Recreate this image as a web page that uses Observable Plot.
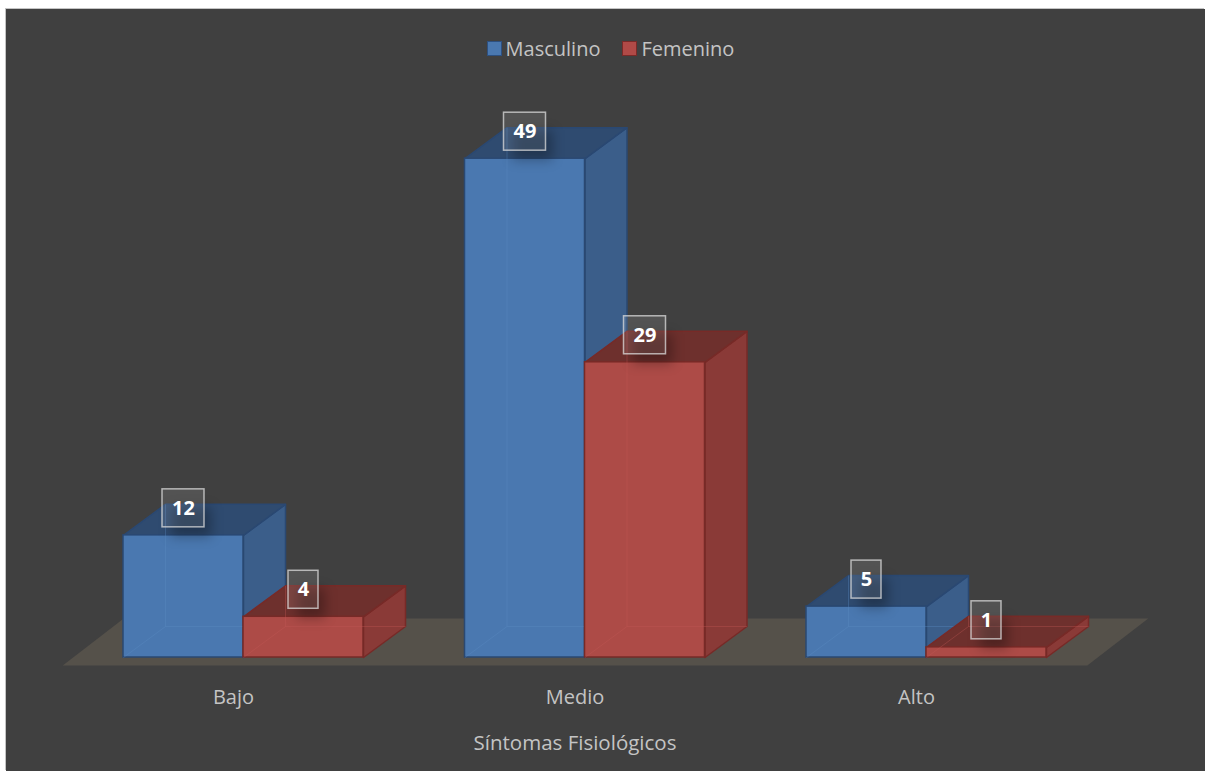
<!DOCTYPE html>
<html>
<head>
<meta charset="utf-8">
<script src="https://cdn.jsdelivr.net/npm/d3@7"></script>
<script src="https://cdn.jsdelivr.net/npm/@observablehq/plot@0.6"></script>
<style>
  html, body { margin: 0; padding: 0; background: #ffffff; }
  #chart {
    position: absolute; left: 6px; top: 9px; width: 1199px; height: 762px;
    background: #404040; box-shadow: -1px -1px 0 #c4c4c4; overflow: hidden;
    font-family: "Open Sans", sans-serif;
  }
  #legend {
    height: 66px; display: flex; justify-content: center; align-items: center;
    padding-left: 10px; padding-top: 12px; box-sizing: border-box;
    color: #c4c4c4; font-size: 20px;
  }
  .item { display: flex; align-items: center; margin: 0 11px; }
  .sw { width: 13px; height: 13px; border: 1.5px solid; margin-right: 4px; }
  #plot svg { display: block; }
</style>
</head>
<body>
<div id="chart">
  <div id="legend"></div>
  <div id="plot"></div>
</div>
<script>
// ---- data ----
const categories = ["Bajo", "Medio", "Alto"];
const seriesNames = ["Masculino", "Femenino"];
const masculino = [12, 49, 5];
const femenino = [4, 29, 1];
const axisTitle = "Síntomas Fisiológicos";

// ---- styles ----
const palette = {
  Masculino: {front: "#4a78b0", side: "#3b5e8a", top: "#2f4b70", edge: "#2a4872", inner: "#5d8cc4", sw: "#4a78b0", swEdge: "#2d5080"},
  Femenino:  {front: "#ad4b47", side: "#8a3a37", top: "#6e302d", edge: "#772a27", inner: "#c25a55", sw: "#b04a47", swEdge: "#7a2a28"}
};

// ---- layout ----
const W = 1199, H = 690, mL = 66.25, mR = 108.25, mT = 73, mB = 108;
const yMax = 50;
const pxX = (W - mL - mR) / categories.length;
const pxY = (H - mT - mB) / yMax;
const BAR = 120 / pxX, DX = 42 / pxX, DY = 31 / pxY;

// legend
const legend = document.getElementById("legend");
seriesNames.forEach(n => {
  const it = document.createElement("div"); it.className = "item";
  const sw = document.createElement("div"); sw.className = "sw";
  sw.style.background = palette[n].sw; sw.style.borderColor = palette[n].swEdge;
  const t = document.createElement("span"); t.textContent = n;
  it.appendChild(sw); it.appendChild(t); legend.appendChild(it);
});

// ---- derived geometry ----
const seriesValues = [masculino, femenino];
const bars = [];
seriesValues.forEach((vals, s) => vals.forEach((v, i) => {
  const xl = i + 0.5 - BAR + s * BAR;
  bars.push({series: seriesNames[s], s, i, cat: categories[i], v, xl, xr: xl + BAR, xc: xl + BAR / 2});
}));

function sidePoly(b) {
  return [[b.xr, 0], [b.xr + DX, DY], [b.xr + DX, b.v + DY], [b.xr, b.v], [b.xr, 0]]
    .map(([x, y]) => ({id: b.series + b.i, x, y}));
}
function topPoly(b) {
  return [[b.xl, b.v], [b.xr, b.v], [b.xr + DX, b.v + DY], [b.xl + DX, b.v + DY], [b.xl, b.v]]
    .map(([x, y]) => ({id: b.series + b.i, x, y}));
}
function innerLinks(b) {
  return [
    {x1: b.xl + DX, y1: DY, x2: b.xl + DX, y2: b.v + DY},
    {x1: b.xl + DX, y1: DY, x2: b.xr + DX, y2: DY},
    {x1: b.xl, y1: 0, x2: b.xl + DX, y2: DY}
  ];
}

// floor
const fx0 = -10 / pxX, fx1 = categories.length - 10 / pxX, fy0 = -8 / pxY, fdx = 61 / pxX, fdy = 47 / pxY;
const floor = [[fx0, fy0], [fx1, fy0], [fx1 + fdx, fy0 + fdy], [fx0 + fdx, fy0 + fdy], [fx0, fy0]]
  .map(([x, y]) => ({id: "floor", x, y}));

const marks = [
  Plot.line(floor, {x: "x", y: "y", z: "id", fill: "#55514a", stroke: "none"})
];

seriesNames.forEach(n => {
  const bs = bars.filter(b => b.series === n);
  const c = palette[n];
  marks.push(
    Plot.line(bs.flatMap(sidePoly), {x: "x", y: "y", z: "id", fill: c.side, stroke: c.edge, strokeWidth: 1.5}),
    Plot.line(bs.flatMap(topPoly), {x: "x", y: "y", z: "id", fill: c.top, stroke: c.edge, strokeWidth: 1.5}),
    Plot.rect(bs, {x1: "xl", x2: "xr", y1: 0, y2: "v", fill: c.front, stroke: c.edge, strokeWidth: 1.5}),
    Plot.link(bs.flatMap(innerLinks), {x1: "x1", y1: "y1", x2: "x2", y2: "y2", stroke: c.inner, strokeOpacity: 0.35, strokeWidth: 1})
  );
});

// data labels
const labelStyle = {fill: "white", fillOpacity: 0.1, stroke: "#dcdcdc", strokeOpacity: 0.75, strokeWidth: 1.5};
const wide = bars.filter(b => String(b.v).length > 1);
const narrow = bars.filter(b => String(b.v).length === 1);
const shadowStyle = {fill: "black", fillOpacity: 0.28, stroke: "none", dx: 8, dy: -13, ariaDescription: "label-shadow"};
marks.push(
  Plot.rect(wide, {x1: "xc", x2: "xc", y1: "v", y2: "v", insetLeft: -20, insetRight: -20, insetTop: -15, insetBottom: -15, ...shadowStyle}),
  Plot.rect(narrow, {x1: "xc", x2: "xc", y1: "v", y2: "v", insetLeft: -14, insetRight: -14, insetTop: -15, insetBottom: -15, ...shadowStyle}),
  Plot.rect(wide, {x1: "xc", x2: "xc", y1: "v", y2: "v", insetLeft: -21, insetRight: -21, insetTop: -19, insetBottom: -19, dy: -27, ...labelStyle}),
  Plot.rect(narrow, {x1: "xc", x2: "xc", y1: "v", y2: "v", insetLeft: -15, insetRight: -15, insetTop: -19, insetBottom: -19, dy: -27, ...labelStyle}),
  Plot.text(bars, {x: "xc", y: "v", text: d => String(d.v), dy: -27, fill: "white", fontWeight: "bold", fontSize: 20}),
  Plot.text(categories, {x: (d, i) => i + 0.5, y: 0, text: d => d, dx: -10, dy: 40, fill: "#c4c4c4", fontSize: 20}),
  Plot.text([axisTitle], {x: categories.length / 2, y: 0, text: d => d, dx: -10, dy: 86, fill: "#c4c4c4", fontSize: 20.5})
);

const chart = Plot.plot({
  width: W, height: H,
  marginLeft: mL, marginRight: mR, marginTop: mT, marginBottom: mB,
  x: {domain: [0, categories.length], axis: null},
  y: {domain: [0, yMax], axis: null},
  style: {background: "transparent", fontFamily: "'Open Sans', sans-serif", overflow: "visible"},
  marks
});
chart.querySelectorAll('[aria-description="label-shadow"]').forEach(g => {
  g.style.filter = "blur(6px)";
});
document.getElementById("plot").appendChild(chart);
</script>
</body>
</html>
